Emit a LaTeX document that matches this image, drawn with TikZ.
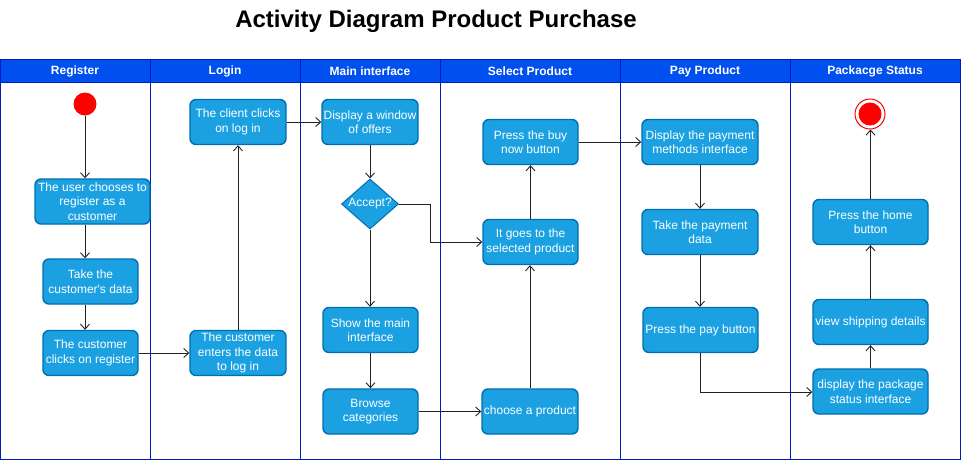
\documentclass[tikz,border=0pt]{standalone}
\usepackage{fontspec}
\setmainfont{Liberation Sans}
\usetikzlibrary{arrows.meta,shapes.geometric,calc}
\definecolor{lanebd}{HTML}{001DBC}
\definecolor{headfill}{HTML}{0050EF}
\definecolor{boxfill}{HTML}{1BA1E2}
\definecolor{boxbd}{HTML}{006EAF}
\definecolor{linec}{HTML}{222222}
\tikzset{
  act/.style={draw=boxbd, fill=boxfill, line width=1.4pt, rounded corners=6pt,
    text=white, font=\fontsize{12}{14.5}\selectfont, align=center, inner sep=0pt,
    minimum height=45pt},
  dec/.style={diamond, draw=boxbd, fill=boxfill, line width=1pt, text=white,
    font=\fontsize{12}{14.5}\selectfont, inner sep=0pt, minimum width=57pt, minimum height=50pt, aspect=1.14},
  lane/.style={draw=lanebd, line width=1pt},
  head/.style={text=white, font=\bfseries\fontsize{12}{14}\selectfont},
  arr/.style={draw=linec, line width=0.9pt, -{Straight Barb[length=5pt,width=9pt]}},
}
\begin{document}
\begin{tikzpicture}[x=1pt,y=-1pt]
\useasboundingbox (0,0) rectangle (961,461);
% title
\node[font=\bfseries\fontsize{24}{28}\selectfont, anchor=base] (title) at (436,27) {Activity Diagram Product Purchase};
% lanes
\fill[headfill] (0.5,59.5) rectangle (960,82);
\foreach \a/\b in {0.5/150, 150/300, 300/440, 440/620, 620/790, 790/960}{
  \draw[lane] (\a,59.5) rectangle (\b,459.5);
  \draw[lane] (\a,82) -- (\b,82);
}
\node[head] (h1) at (75,71) {Register};
\node[head] (h2) at (225,71) {Login};
\node[head] (h3) at (370,71) {Main interface};
\node[head] (h4) at (530,71) {Select Product};
\node[head] (h5) at (705,71) {Pay Product};
\node[head] (h6) at (875,71) {Packacge Status};
% start / end
\node[circle, fill=red, minimum size=23pt, inner sep=0pt] (start) at (85,104) {};
\node[circle, draw=red, fill=white, line width=1pt, minimum size=30pt, inner sep=0pt] (endo) at (870,114) {};
\node[circle, fill=red, minimum size=23pt, inner sep=0pt] (endi) at (870,114) {};
% activities
\node[act, minimum width=115pt] (user) at (92.5,201.5) {The user chooses to\\register as a\\customer};
\node[act, minimum width=95pt] (take) at (90.5,281.5) {Take the\\customer\textquotesingle s data};
\node[act, minimum width=95pt] (reg) at (90.5,353) {The customer\\clicks on register};
\node[act, minimum width=96pt] (client) at (238,122) {The client clicks\\on log in};
\node[act, minimum width=96pt] (enters) at (238,353) {The customer\\enters the data\\to log in};
\node[act, minimum width=96pt] (disp) at (370,122) {Display a window\\of offers};
\node[dec] (acc) at (370,204) {Accept?};
\node[act, minimum width=95pt] (show) at (370.5,330) {Show the main\\interface};
\node[act, minimum width=95pt] (browse) at (370.5,411.5) {Browse\\categories};
\node[act, minimum width=95pt] (buy) at (530.5,142) {Press the buy\\now button};
\node[act, minimum width=95pt] (goes) at (530.5,242) {It goes to the\\selected product};
\node[act, minimum width=96pt] (choose) at (530,411.5) {choose a product};
\node[act, minimum width=116pt] (paym) at (700,142) {Display the payment\\methods interface};
\node[act, minimum width=116pt] (payd) at (700,232) {Take the payment\\data};
\node[act, minimum width=115pt] (payb) at (700.5,330) {Press the pay button};
\node[act, minimum width=115pt] (home) at (870.5,222) {Press the home\\button};
\node[act, minimum width=115pt] (ship) at (870.5,322) {view shipping details};
\node[act, minimum width=115pt] (pkg) at (870.5,391.5) {display the package\\status interface};
\coordinate (k1) at (430,204);
\coordinate (k2) at (430,242);
\coordinate (k3) at (700,392);
% connectors
\draw[arr] (start.south) -- (start.south |- user.north);
\draw[arr] (start |- user.south) -- (start |- take.north);
\draw[arr] (start |- take.south) -- (start |- reg.north);
\draw[arr] (reg.east) -- (enters.west);
\draw[arr] (enters.north) -- (client.south);
\draw[arr] (client.east) -- (disp.west);
\draw[arr] (disp.south) -- (acc.north);
\draw[arr] (acc.south) -- (acc.south |- show.north);
\draw[arr] (show.south) -- (browse.north);
\draw[arr] (browse.east) -- (browse.east -| choose.west);
\draw[arr] (acc.east) -- (k1) -- (k2) -- (goes.west);
\draw[arr] (choose.north) -- (choose.north |- goes.south);
\draw[arr] (goes.north) -- (buy.south);
\draw[arr] (buy.east) -- (buy.east -| paym.west);
\draw[arr] (paym.south) -- (payd.north);
\draw[arr] (payd.south) -- (payd.south |- payb.north);
\draw[arr] (payd.south |- payb.south) -- (k3) -- (k3 -| pkg.west);
\draw[arr] (pkg.north) -- (ship.south);
\draw[arr] (ship.north) -- (home.south);
\draw[arr] (home.north) -- (home.north |- endo.south);
\end{tikzpicture}
\end{document}
